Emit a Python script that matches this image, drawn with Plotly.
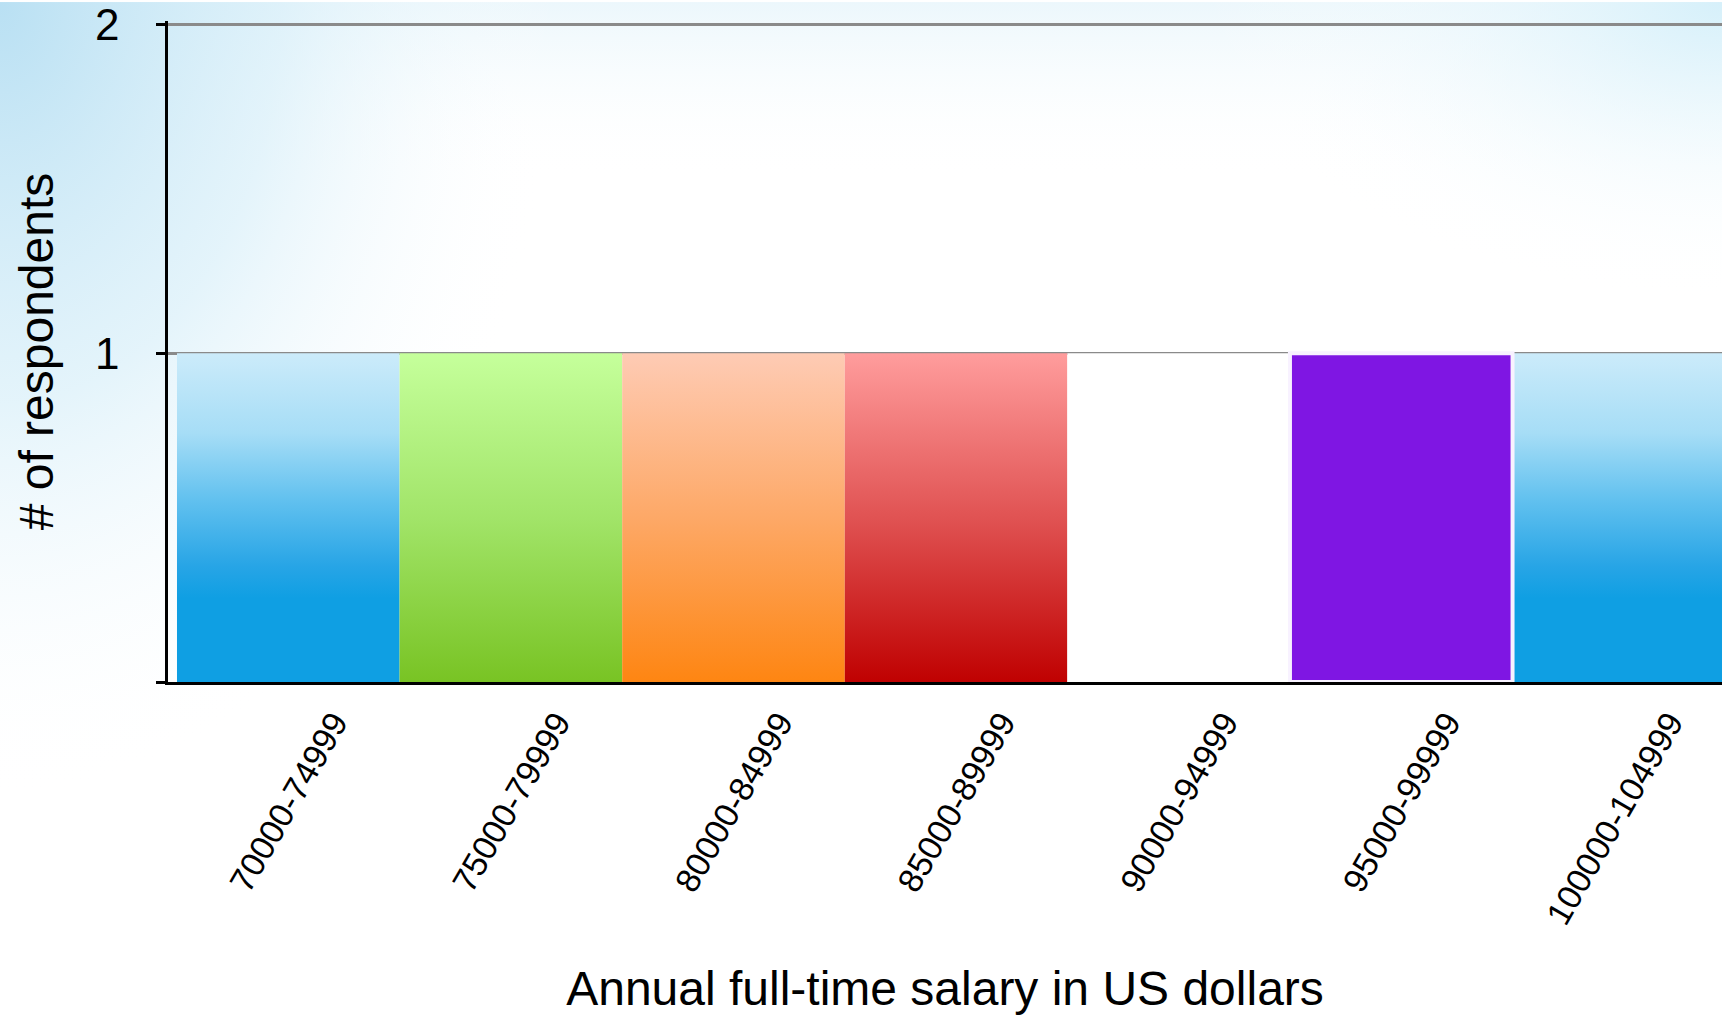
import base64
import plotly.graph_objects as go

categories = ["70000-74999", "75000-79999", "80000-84999", "85000-89999",
              "90000-94999", "95000-99999", "100000-104999"]
respondents = [1, 1, 1, 1, 1, 1, 1]

# bottom -> top gradient stops for each bar
bar_fills = [
    [[0, "#0f9fe3"], [0.26, "#0f9fe3"], [0.36, "#28a5e6"], [0.56, "#62c1ef"], [0.76, "#a6ddf6"], [1, "#cbebfa"]],
    [[0, "#78c323"], [0.5, "#a1e468"], [1, "#c5ff9b"]],
    [[0, "#fe8511"], [0.5, "#fda866"], [1, "#fecbb4"]],
    [[0, "#bf0000"], [0.5, "#e05252"], [1, "#ff9c9c"]],
    [[0, "#ffffff"], [1, "#ffffff"]],
    [[0, "#7f16e3"], [1, "#7f16e3"]],
    [[0, "#0f9fe3"], [0.26, "#0f9fe3"], [0.36, "#28a5e6"], [0.56, "#62c1ef"], [0.76, "#a6ddf6"], [1, "#cbebfa"]],
]

# slide-like background, light blue washes at the top corners
bg_svg = """<svg xmlns="http://www.w3.org/2000/svg" width="1722" height="1015" viewBox="0 0 1722 1015" preserveAspectRatio="none">
<defs>
<radialGradient id="tl" gradientUnits="userSpaceOnUse" cx="0" cy="0" r="1" gradientTransform="translate(0 0) scale(560 800)">
<stop offset="0" stop-color="#b9e0f3" stop-opacity="1"/>
<stop offset="0.5" stop-color="#d8eff9" stop-opacity="0.7"/>
<stop offset="1" stop-color="#ffffff" stop-opacity="0"/>
</radialGradient>
<radialGradient id="tr" gradientUnits="userSpaceOnUse" cx="0" cy="0" r="1" gradientTransform="translate(1722 0) scale(520 300)">
<stop offset="0" stop-color="#d6f0fa" stop-opacity="1"/>
<stop offset="1" stop-color="#ffffff" stop-opacity="0"/>
</radialGradient>
<linearGradient id="top" x1="0" y1="0" x2="0" y2="1">
<stop offset="0" stop-color="#ecf7fc" stop-opacity="1"/>
<stop offset="1" stop-color="#ffffff" stop-opacity="0"/>
</linearGradient>
</defs>
<rect width="1722" height="1015" fill="#ffffff"/>
<rect width="1722" height="180" fill="url(#top)"/>
<rect width="1722" height="1015" fill="url(#tl)"/>
<rect width="1722" height="1015" fill="url(#tr)"/>
</svg>"""
bg_uri = "data:image/svg+xml;base64," + base64.b64encode(bg_svg.encode()).decode()

fig = go.Figure()

draw_order = [0, 1, 2, 3, 4, 6, 5]
for i in draw_order:
    v = respondents[i]
    selected = categories[i] == "95000-99999"
    fig.add_trace(go.Scatter(
        x=[i - 0.5, i - 0.5, i + 0.5, i + 0.5, i - 0.5],
        y=[0, v, v, 0, 0],
        mode="lines",
        fill="toself",
        fillgradient=dict(type="vertical", colorscale=bar_fills[i], start=0, stop=v),
        line=dict(color="#f8f2ff" if selected else "rgba(0,0,0,0)", width=4 if selected else 0),
        hoverinfo="skip",
        showlegend=False,
    ))

font = "Liberation Sans, Arial, Helvetica, sans-serif"

fig.update_layout(
    width=1722, height=1015,
    margin=dict(l=168, r=0, t=19, b=333),
    paper_bgcolor="white",
    plot_bgcolor="rgba(0,0,0,0)",
    font=dict(family=font, color="black"),
    showlegend=False,
    images=[dict(source=bg_uri, xref="paper", yref="paper",
                 x=-168 / 1554, y=1 + 19 / 663, sizex=1722 / 1554, sizey=1015 / 663,
                 xanchor="left", yanchor="top", sizing="stretch", layer="below")],
)

fig.update_xaxes(
    range=[-0.5404, 6.441],
    tickmode="array", tickvals=list(range(len(categories))), ticktext=categories,
    tickangle=-60, tickfont=dict(size=34),
    ticklabelshift=46, ticklabelstandoff=4,
    showgrid=False, zeroline=False,
    showline=True, linecolor="black", linewidth=3,
    ticks="",
    title=dict(text="Annual full-time salary in US dollars", font=dict(size=48), standoff=46),
)

fig.update_yaxes(
    range=[0, 2.01],
    tickmode="array", tickvals=[0, 1, 2], ticktext=["", "1", "2"],
    tickfont=dict(size=44),
    ticks="outside", ticklen=9, tickwidth=2.5, tickcolor="black",
    ticklabelstandoff=28, ticklabeloverflow="allow",
    showgrid=True, gridcolor="#8a8a8a", gridwidth=3,
    zeroline=False,
    showline=True, linecolor="black", linewidth=2.5,
    title=dict(text="# of respondents", font=dict(size=48), standoff=27),
)

fig.write_html("out.html", config={"displayModeBar": False},
               post_script="document.body.style.margin = '0';")
